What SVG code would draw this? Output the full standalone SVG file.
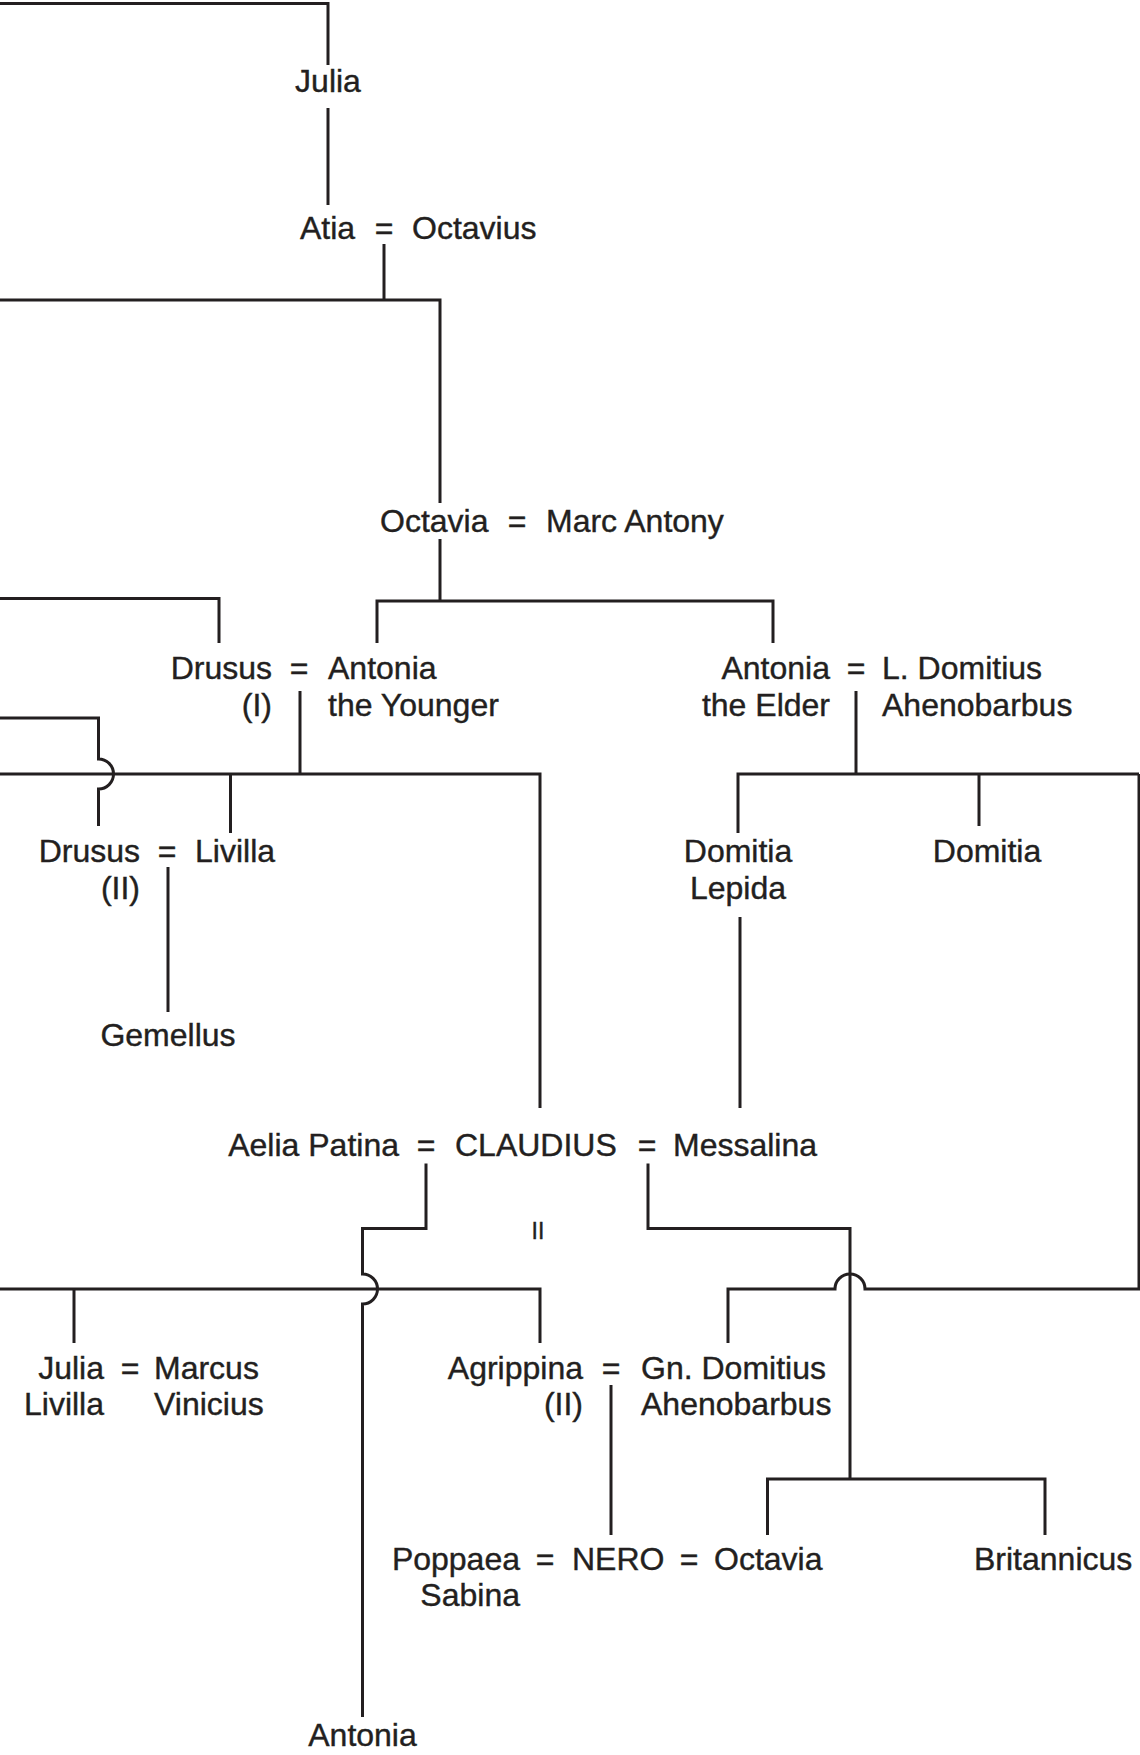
<svg xmlns="http://www.w3.org/2000/svg" width="1140" height="1755" viewBox="0 0 1140 1755">
<style>
text{font-family:"Liberation Sans",Arial,sans-serif;font-size:32px;fill:#231f20;stroke:#231f20;stroke-width:0.4}
.m{text-anchor:middle}.e{text-anchor:end}
.small{font-size:23px}
#connectors path{fill:none;stroke:#231f20;stroke-width:3;stroke-linejoin:miter;stroke-linecap:butt}
</style>
<rect width="1140" height="1755" fill="#fff"/>
<g id="connectors">
<path d="M0 3.5 H328 V65"/>
<path d="M328 108 V205"/>
<path d="M384 244 V300"/>
<path d="M0 300 H440 V503"/>
<path d="M440 539 V601"/>
<path d="M377 643 V601 H773 V643"/>
<path d="M0 598.6 H219 V643"/>
<path d="M300 691 V774"/>
<path d="M0 774 H540 V1108"/>
<path d="M0 718 H98.5 V759 A15 15 0 0 1 98.5 789 V826"/>
<path d="M230.5 774 V833"/>
<path d="M168 867 V1012"/>
<path d="M856 691 V774"/>
<path d="M738 833 V774 H1139"/>
<path d="M979 774 V826"/>
<path d="M740 917 V1108"/>
<path d="M426 1163.5 V1228.5 H362.5 V1274 A15 15 0 0 1 362.5 1304 V1717"/>
<path d="M0 1289 H540 V1343"/>
<path d="M74 1289 V1343"/>
<path d="M648 1163.5 V1228.5 H850 V1479"/>
<path d="M767.5 1535 V1479 H1045 V1535"/>
<path d="M728 1343 V1289 H835 A15 15 0 0 1 865 1289 H1139 V774"/>
<path d="M611 1385 V1535"/>
</g>
<g id="julia"><text class="m" x="328" y="92">Julia</text></g>
<g id="atia-octavius"><text x="300" y="239">Atia</text><text class="m" x="384" y="239">=</text><text x="412" y="239">Octavius</text></g>
<g id="octavia-antony"><text x="380" y="532">Octavia</text><text class="m" x="517" y="532">=</text><text x="546" y="532">Marc Antony</text></g>
<g id="drusus1-antonia-younger"><text class="e" x="272" y="679">Drusus</text><text class="m" x="299" y="679">=</text><text x="328" y="679">Antonia</text><text class="e" x="272" y="716">(I)</text><text x="328" y="716">the Younger</text></g>
<g id="antonia-elder-domitius"><text class="e" x="830" y="679">Antonia</text><text class="m" x="856" y="679">=</text><text x="882" y="679">L. Domitius</text><text class="e" x="830" y="716">the Elder</text><text x="882" y="716">Ahenobarbus</text></g>
<g id="drusus2-livilla"><text class="e" x="140" y="862">Drusus</text><text class="m" x="167" y="862">=</text><text x="195" y="862">Livilla</text><text class="e" x="140" y="899">(II)</text></g>
<g id="domitia-lepida"><text class="m" x="738" y="862">Domitia</text><text class="m" x="738" y="899">Lepida</text></g>
<g id="domitia"><text class="m" x="987" y="862">Domitia</text></g>
<g id="gemellus"><text class="m" x="168" y="1046">Gemellus</text></g>
<g id="claudius"><text class="e" x="399" y="1156">Aelia Patina</text><text class="m" x="426" y="1156">=</text><text x="455" y="1156">CLAUDIUS</text><text class="m" x="647" y="1156">=</text><text x="673" y="1156">Messalina</text></g>
<g id="ii-mark"><text class="m small" x="538" y="1239">II</text></g>
<g id="julia-livilla-vinicius"><text class="e" x="104" y="1379">Julia</text><text class="m" x="130" y="1379">=</text><text x="154" y="1379">Marcus</text><text class="e" x="104" y="1415">Livilla</text><text x="154" y="1415">Vinicius</text></g>
<g id="agrippina-domitius"><text class="e" x="583" y="1379">Agrippina</text><text class="m" x="611" y="1379">=</text><text x="641" y="1379">Gn. Domitius</text><text class="e" x="583" y="1415">(II)</text><text x="641" y="1415">Ahenobarbus</text></g>
<g id="nero"><text class="e" x="520" y="1570">Poppaea</text><text class="m" x="545" y="1570">=</text><text x="572" y="1570">NERO</text><text class="m" x="689" y="1570">=</text><text x="714" y="1570">Octavia</text><text class="e" x="520" y="1606">Sabina</text></g>
<g id="britannicus"><text x="974" y="1570">Britannicus</text></g>
<g id="antonia"><text class="m" x="362.5" y="1746">Antonia</text></g>
</svg>
